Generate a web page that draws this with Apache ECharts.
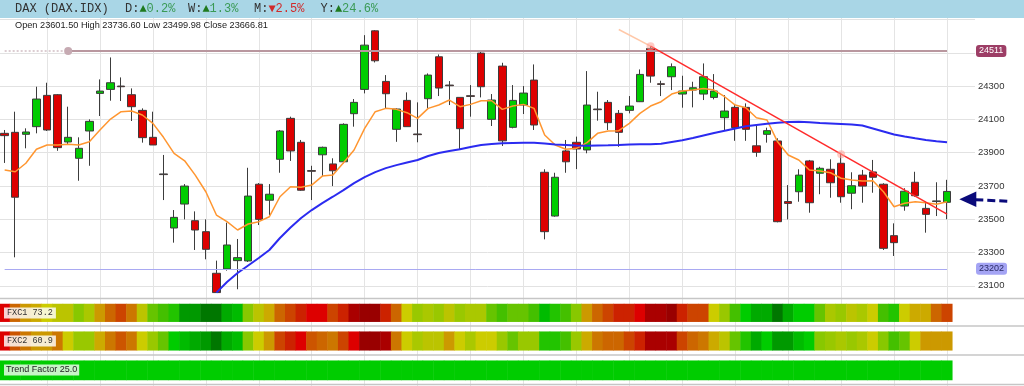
<!DOCTYPE html>
<html><head><meta charset="utf-8">
<script src="https://cdn.jsdelivr.net/npm/echarts/dist/echarts.min.js"></script>
<style>html,body{margin:0;padding:0;background:#fff}#c{width:1024px;height:386px}</style>
</head><body><div id="c"></div>
<script>
// ---------- DATA ----------
const opens  = [24016,24022,24010,24056,24244,24248,23964,23866,24030,24256,
                24280,24300,24248,24154,23992,23772,23447,23591,23491,23425,
                23175,23201,23251,23249,23710,23614,23860,24106,23962,23792,
                23887,23832,23845,24134,24280,24632,24328,24040,24214,24012,
                24224,24476,24306,24232,24242,24498,24100,24420,24052,24186,
                24336,23782,23519,23910,23962,23916,24162,24202,24136,24154,
                24206,24526,24314,24356,24252,24276,24252,24232,24110,24172,
                24172,23941,24010,23970,23606,23665,23850,23776,23800,23836,
                23656,23765,23784,23710,23401,23579,23722,23565,23610,23601.50];
const closes = [24002,23632,24024,24222,24036,23930,23992,23926,24088,24270,
                24320,24296,24176,23990,23946,23768,23511,23699,23435,23319,
                23059,23345,23269,23639,23499,23650,24030,23910,23674,23788,
                23932,23791,24070,24202,24546,24452,24254,24162,24056,24008,
                24366,24288,24302,24044,24238,24296,24216,23971,24214,24258,
                24066,23425,23752,23845,23922,24186,24158,24080,24022,24180,
                24370,24360,24310,24416,24270,24290,24356,24270,24150,24050,
                24040,23902,24032,23485,23595,23765,23599,23806,23719,23635,
                23701,23699,23752,23325,23359,23668,23641,23529,23606,23666.81];
const lows   = [23838,23271,23926,24016,24030,23911,23952,23731,23821,24120,
                24212,24210,24090,23960,23946,23615,23359,23499,23315,23259,
                23059,23191,23079,23243,23465,23525,23779,23850,23670,23615,
                23759,23699,23836,24056,24256,24442,24166,23965,24056,23962,
                24166,24240,24186,23916,24116,24232,24060,23940,24046,24132,
                24036,23379,23515,23779,23801,23896,24092,24036,23935,24136,
                24204,24320,24240,24276,24170,24172,24216,24220,24030,23971,
                23971,23875,23960,23481,23499,23605,23539,23650,23629,23599,
                23560,23599,23659,23315,23279,23551,23635,23419,23519,23499.98];
const highs  = [24036,24146,24046,24296,24320,24252,24176,23992,24100,24340,
                24472,24352,24286,24166,24146,23886,23555,23711,23547,23499,
                23251,23479,23381,23809,23717,23711,24036,24116,23976,23821,
                23936,23866,24076,24222,24606,24636,24366,24166,24262,24202,
                24376,24490,24330,24232,24306,24510,24252,24440,24306,24300,
                24430,23800,23779,23976,23996,24390,24266,24216,24156,24240,
                24400,24540,24332,24436,24362,24326,24436,24372,24246,24186,
                24196,24060,24050,23986,23705,23800,23856,23815,23860,23899,
                23782,23796,23856,23716,23475,23686,23785,23605,23722,23736.60];
// short moving average (orange)
const maFast = [23795,23785,23836,23920,23946,23946,23950,23946,23965,24036,
                24102,24146,24150,24126,24076,23992,23896,23851,23765,23665,
                23525,23485,23435,23471,23485,23515,23635,23695,23692,23705,
                23759,23765,23839,23916,24046,24146,24166,24160,24140,24106,
                24166,24186,24216,24176,24190,24212,24212,24160,24180,24190,
                24166,24006,23946,23920,23926,23960,24016,24030,24032,24076,
                24136,24180,24206,24252,24270,24276,24286,24276,24236,24186,
                24170,24110,24096,23965,23886,23856,23796,23790,23779,23746,
                23735,23729,23731,23665,23575,23596,23605,23599,23590,23605];
// long moving average (blue)
const maSlow = [null,null,null,null,null,null,null,null,null,null,
                null,null,null,null,null,null,null,null,null,null,
                23059,23123,23177,23222,23267,23315,23387,23450,23507,23555,
                23597,23635,23675,23717,23753,23783,23807,23825,23841,23856,
                23880,23898,23910,23920,23934,23946,23952,23956,23958,23959,
                23959,23955,23949,23946,23943,23941,23943,23944,23946,23949,
                23950,23950,23953,23964,23974,23988,24003,24018,24032,24045,
                24058,24066,24074,24080,24084,24086,24082,24078,24075,24072,
                24069,24063,24045,24027,24009,23997,23986,23976,23968,23962];
// FXC indicator levels per candle (0 = deep red ... 22 = deep green)
const fxc1Levels = [2,6,8,9,10,11,11,14,12,8, 6,4,7,11,15,16,17,21,21,22,
                    22,20,19,14,11,9,6,4,3,2, 2,4,3,1,0,0,3,6,10,13,
                    12,13,11,13,12,12,15,16,15,15, 16,19,17,16,14,8,6,4,3,3,
                    2,1,1,0,3,4,4,10,13,16, 18,20,20,22,20,18,18,15,12,13,
                    11,12,10,16,17,10,9,9,6,4];
const fxc2Levels = [2,5,7,8,8,7,10,13,13,9, 7,5,7,10,13,15,18,19,20,21,
                    22,20,19,14,10,8,4,3,2,5, 6,7,4,2,0,0,1,7,10,12,
                    11,11,8,10,12,10,10,13,15,13, 13,17,17,16,13,9,7,6,6,4,
                    3,1,1,1,4,6,7,9,11,15, 17,20,18,21,21,19,18,14,13,12,
                    13,12,10,14,16,15,10,8,8,8];
const trendLevel = 18;
const fxc1Value = '73.2', fxc2Value = '60.9', trendFactor = '25.0';
const yTickLabels = [23100,23300,23500,23700,23900,24100,24300];
const resistance = 24511, resistanceAnchor = 6;
const support = 23202;
const trendPts = {ext: [58, 24640], a: [61, 24540], b: [79, 23891], end: [89, 23530]};
const arrowPrice = 23620;
const header = {name: 'DAX (DAX.IDX)', d: '0.2%', w: '1.3%', m: '2.5%', y: '24.6%'};
const ohlcText = 'Open 23601.50 High 23736.60 Low 23499.98 Close 23666.81';

// ---------- CHART ----------
const N = opens.length;
const categories = opens.map((_, i) => String(i + 1));
const palette = ['#990000','#aa0000','#dd0000','#cc2200','#cc4400','#cc5500','#cc6600','#cc7700',
  '#cc9900','#ccaa00','#cccc00','#bbc400','#aac800','#99c800','#88c800','#66c400','#44c000',
  '#22c400','#00cc00','#00bb00','#00aa00','#009900','#007700'];
const candleData = opens.map((o, i) => [o, closes[i], lows[i], highs[i]]);
const stripData = lv => lv.map((v, i) => [i, 0, v]);

const L = -0.64, W = 952.94;
const grids = [
  {left: L, width: W, top: 19.5, height: 282.9},   // candles 23000..24700
  {left: 0, width: 975, top: 19.5, height: 266.3}, // y labels + h-grid 23100..24700
  {left: 47, width: 900, top: 18, height: 368},    // vertical grid lines
  {left: L, width: W, top: 304, height: 17.7},
  {left: L, width: W, top: 331.7, height: 18.6},
  {left: L, width: W, top: 360.7, height: 19.3}
].map(g => Object.assign(g, {containLabel: false, outerBoundsMode: 'none'}));

const hidden = {axisLine: {show: false}, axisTick: {show: false}, axisLabel: {show: false}, splitLine: {show: false}};
const mlLine = (a, b, style, label) => [Object.assign({coord: a, lineStyle: style}, label ? {label} : {}), {coord: b}];
const boxLabel = (text, bg, fg) => ({show: true, position: 'end', distance: 29, formatter: () => String(text),
  backgroundColor: bg, color: fg, padding: [2, 3, 1, 3], borderRadius: 3,
  fontSize: 9, fontFamily: 'Liberation Sans'});

const option = {
  animation: false,
  backgroundColor: '#fff',
  grid: grids,
  xAxis: [
    Object.assign({type: 'category', gridIndex: 0, data: categories, boundaryGap: true}, hidden),
    Object.assign({type: 'value', gridIndex: 1, min: 0, max: 1}, hidden),
    {type: 'value', gridIndex: 2, min: 0, max: 85, interval: 5, axisLine: {show: false}, axisTick: {show: false},
     axisLabel: {show: false}, splitLine: {show: true, lineStyle: {color: '#e4e4e4', width: 1}}},
    Object.assign({type: 'category', gridIndex: 3, data: categories, boundaryGap: true}, hidden),
    Object.assign({type: 'category', gridIndex: 4, data: categories, boundaryGap: true}, hidden),
    Object.assign({type: 'category', gridIndex: 5, data: categories, boundaryGap: true}, hidden)
  ],
  yAxis: [
    Object.assign({type: 'value', gridIndex: 0, min: 23000, max: 24700}, hidden),
    {type: 'value', gridIndex: 1, position: 'right', min: 23100, max: 24700, interval: 100,
     axisLine: {show: false}, axisTick: {show: false},
     axisLabel: {show: true, margin: 3, color: '#333', fontSize: 9.5, fontFamily: 'Liberation Sans',
       showMinLabel: true, showMaxLabel: true,
       formatter: v => yTickLabels.indexOf(Math.round(v)) >= 0 ? String(Math.round(v)) : ''},
     splitLine: {show: true, lineStyle: {color: ['#e2e2e2', 'rgba(0,0,0,0)'], width: 1}}},
    Object.assign({type: 'value', gridIndex: 2, min: 0, max: 1}, hidden),
    Object.assign({type: 'category', gridIndex: 3, data: ['FXC1']}, hidden),
    Object.assign({type: 'category', gridIndex: 4, data: ['FXC2']}, hidden),
    Object.assign({type: 'category', gridIndex: 5, data: ['TF']}, hidden)
  ],
  visualMap: {type: 'piecewise', show: false, dimension: 2, seriesIndex: [3, 4, 5],
    pieces: palette.map((c, i) => ({value: i, color: c}))},
  series: [
    {type: 'candlestick', xAxisIndex: 0, yAxisIndex: 0, data: candleData, barWidth: 8, clip: false,
     itemStyle: {color: '#00cc00', color0: '#dd0000', borderColor: '#3c3c3c', borderColor0: '#3c3c3c',
       borderColorDoji: '#3c3c3c', borderWidth: 1},
     markLine: {silent: true, symbol: ['none', 'none'], label: {show: false},
       data: [
         mlLine([0, resistance], [resistanceAnchor, resistance], {color: '#dccdd2', width: 2, type: 'dotted'}),
         mlLine([resistanceAnchor, resistance], [N - 1, resistance], {color: '#b9979f', width: 2, type: 'solid'},
                boxLabel(resistance, '#9d3e66', '#ffffff')),
         mlLine([0, support], [N - 1, support], {color: '#a9a9f2', width: 1, type: 'solid'},
                boxLabel(support, '#a4a4f4', '#2a2a66')),
         mlLine(trendPts.ext, trendPts.a, {color: '#ffc8a8', width: 1.5, type: 'solid'}),
         mlLine(trendPts.a, trendPts.end, {color: '#ff2a2a', width: 1.5, type: 'solid'})
       ]},
     markPoint: {silent: true, label: {show: false}, symbol: 'circle',
       data: [
         {coord: [resistanceAnchor, resistance], symbolSize: 8, itemStyle: {color: '#c6aab2'}},
         {coord: trendPts.a, symbolSize: 8, itemStyle: {color: 'rgba(255,160,150,0.55)'}},
         {coord: trendPts.b, symbolSize: 8, itemStyle: {color: 'rgba(255,160,150,0.55)'}}
       ]}},
    {type: 'line', xAxisIndex: 0, yAxisIndex: 0, data: maFast, symbol: 'none', clip: false,
     lineStyle: {color: '#ff9630', width: 1.5}, z: 3},
    {type: 'line', xAxisIndex: 0, yAxisIndex: 0, data: maSlow, symbol: 'none', clip: false,
     lineStyle: {color: '#2b2bf0', width: 2}, z: 3},
    {type: 'heatmap', xAxisIndex: 3, yAxisIndex: 3, data: stripData(fxc1Levels)},
    {type: 'heatmap', xAxisIndex: 4, yAxisIndex: 4, data: stripData(fxc2Levels)},
    {type: 'heatmap', xAxisIndex: 5, yAxisIndex: 5, data: stripData(opens.map(() => trendLevel))}
  ]
};

const chart = echarts.init(document.getElementById('c'), null, {renderer: 'canvas'});
chart.setOption(option);

const tip = chart.convertToPixel({gridIndex: 0}, [N - 1, arrowPrice]);
const tx = tip[0] + 12.3, ty = tip[1];
const mono = '"Liberation Mono", monospace';
const hdrFont = '12px ' + mono;
const txt = (id, x, y, text, fill, font, extra) => Object.assign({type: 'text', id, x, y, z: 20,
  style: Object.assign({text, fill, font, textVerticalAlign: 'middle'}, extra || {})});
const sep = (id, y) => ({type: 'line', id, z: 15, shape: {x1: 0, y1: y, x2: 1024, y2: y},
  style: {stroke: '#c6c6c6', lineWidth: 1.5}});
const green = '#3a9a55', dgreen = '#1f7a1f', red = '#d02a2a', dark = '#333';
const pct = (id, x, lab, arrow, val, ac, vc) => ({type: 'text', id, x, y: 9, z: 20,
  style: {text: '{a|' + lab + '}{u|' + arrow + '}{g|' + val + '}', textVerticalAlign: 'middle',
    rich: {a: {fill: dark, font: hdrFont}, u: {fill: ac, font: hdrFont}, g: {fill: vc, font: hdrFont}}}});

chart.setOption({graphic: [
  {type: 'rect', id: 'hdr', z: 10, shape: {x: 0, y: 0, width: 1024, height: 18}, style: {fill: '#a9d6e6'}},
  txt('t0', 15, 9, header.name, dark, hdrFont),
  pct('t1', 125, 'D:', '▲', header.d, dgreen, green),
  pct('t2', 188, 'W:', '▲', header.w, dgreen, green),
  pct('t3', 254, 'M:', '▼', header.m, red, red),
  pct('t4', 320.5, 'Y:', '▲', header.y, dgreen, green),
  txt('ohlc', 15, 25, ohlcText, '#222', '9.2px "Liberation Sans", sans-serif'),
  sep('s0', 298.5), sep('s1', 326), sep('s2', 355), sep('s3', 384.5),
  txt('f1', 4, 313, 'FXC1 ' + fxc1Value, '#333', '8.5px ' + mono,
      {backgroundColor: 'rgba(255,255,255,0.82)', padding: [1, 3, 1, 3]}),
  txt('f2', 4, 341, 'FXC2 ' + fxc2Value, '#333', '8.5px ' + mono,
      {backgroundColor: 'rgba(255,255,255,0.82)', padding: [1, 3, 1, 3]}),
  txt('f3', 4, 370, 'Trend Factor ' + trendFactor, '#222', '9px "Liberation Sans", sans-serif',
      {backgroundColor: 'rgba(255,255,255,0.78)', padding: [1, 2, 1, 2]}),
  {type: 'polygon', id: 'ah', z: 20, shape: {points: [[tx, ty], [tx + 17, ty - 7.8], [tx + 17, ty + 7.8]]},
   style: {fill: '#0a0a7a'}},
  {type: 'line', id: 'al', z: 20, shape: {x1: tx + 16, y1: ty + 0.5, x2: tx + 49, y2: ty + 2},
   style: {stroke: '#0a0a7a', lineWidth: 3, lineDash: [8, 4]}}
]});
</script></body></html>
